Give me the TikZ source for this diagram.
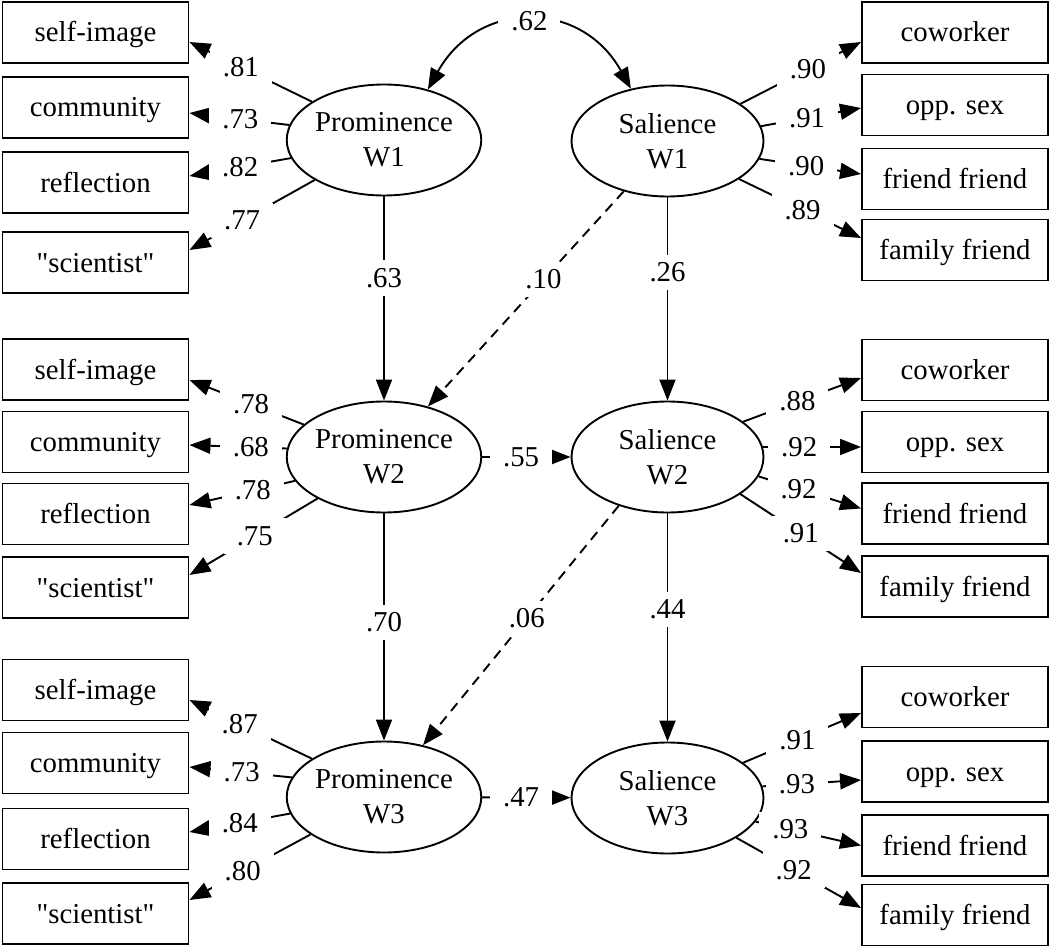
\documentclass[tikz,border=0pt]{standalone}
\usepackage{fontspec}
\setmainfont{Liberation Serif}
\usetikzlibrary{arrows.meta}
\usetikzlibrary{shapes.geometric}

\begin{document}
\begin{tikzpicture}[x=.5pt, y=-.5pt, line width=.95pt,
  >={Triangle[length=10.5pt,width=8pt]},
  font=\fontsize{14.4}{17.5}\selectfont,
  ind/.style={draw, minimum width=93pt, minimum height=30.5pt, inner sep=0pt, text height=10pt, text depth=.5pt},
  lat/.style={draw, ellipse, minimum width=96pt, minimum height=55.5pt, inner sep=0pt, align=center},
  lbl/.style={fill=white, inner xsep=6.5pt, inner ysep=4pt}]
\useasboundingbox (0,0) rectangle (1050,947);
\foreach \nm/\txt/\y in {self1/self-image/32.5, comm1/community/107.5, refl1/reflection/182.5, sci1/\textquotedbl scientist\textquotedbl/262.5,
  self2/self-image/369.5, comm2/community/442, refl2/reflection/514, sci2/\textquotedbl scientist\textquotedbl/587.5,
  self3/self-image/690, comm3/community/763, refl3/reflection/839, sci3/\textquotedbl scientist\textquotedbl/913.5}
  \node[ind] (\nm) at (95.5,\y) {\txt};
\foreach \nm/\txt/\y in {cowk1/coworker/32.5, opp1/opp. sex/105, ff1/friend friend/179, fam1/family friend/250,
  cowk2/coworker/370, opp2/opp. sex/442, ff2/friend friend/513.5, fam2/family friend/586.5,
  cowk3/coworker/697, opp3/opp. sex/771.5, ff3/friend friend/845.5, fam3/family friend/915}
  \node[ind] (\nm) at (955,\y) {\txt};
\node[lat] (prom1) at (384,140) {Prominence\\W1};
\node[lat] (sal1) at (667.5,141) {Salience\\W1};
\node[lat] (prom2) at (384,457) {Prominence\\W2};
\node[lat] (sal2) at (667.5,457) {Salience\\W2};
\node[lat] (prom3) at (384,797) {Prominence\\W3};
\node[lat] (sal3) at (667.5,798) {Salience\\W3};
\foreach \e/\b/\a/\s/\p/\v in {prom1/self1/152/-4.75/.58/.81, prom1/comm1/171/-2.75/.49/.73, prom1/refl1/191/3.25/.50/.82, prom1/sci1/210/6.25/.58/.77,
  prom2/self2/158/-5.25/.46/.78, prom2/comm2/175/-1.5/.37/.68, prom2/refl2/195/4.5/.40/.78, prom2/sci2/212/6.25/.49/.75,
  prom3/self3/152/-5/.59/.87, prom3/comm3/168/-2/.49/.73, prom3/refl3/190/3.5/.50/.84, prom3/sci3/207/6.75/.56/.80}
  \draw[->] (\e.\a) -- ([yshift=\s pt]\b.east) node[lbl, pos=\p] {\v};
\foreach \e/\b/\a/\s/\p/\v in {sal1/cowk1/27/-4.75/.56/.90, sal1/opp1/9/-1.5/.46/.91, sal1/ff1/-11/2.5/.46/.90, sal1/fam1/-28/6/.52/.89,
  sal2/cowk2/25/-4/.46/.88, sal2/opp2/6/-2.5/.37/.92, sal2/ff2/-12/2.5/.39/.92, sal2/fam2/-27/6.75/.50/.91,
  sal3/cowk3/25/-8/.46/.91, sal3/opp3/7/-4.25/.35/.93, sal3/ff3/-15/0/.33/.93, sal3/fam3/-30/3.5/.46/.92}
  \draw[->] (\e.\a) -- ([yshift=\s pt]\b.west) node[lbl, pos=\p] {\v};
\draw[<->] (prom1.49) .. controls +(50,-90) and +(-50,-90) .. (sal1.125) node[lbl, pos=.5] {.62};
\draw[->] (prom1) -- (prom2) node[lbl, pos=.40] {.63};
\draw[->] (sal1) -- (sal2) node[lbl, pos=.37] {.26};
\draw[->, dash pattern=on 5pt off 3.5pt] (sal1.229) -- (prom2.49) node[lbl, pos=.41] {.10};
\draw[->] (prom2) -- (sal2) node[lbl, pos=.44] {.55};
\draw[->] (prom2) -- (prom3) node[lbl, pos=.48] {.70};
\draw[->] (sal2) -- (sal3) node[lbl, pos=.42] {.44};
\draw[->, dash pattern=on 5pt off 3.5pt] (sal2.225) -- (prom3.53) node[lbl, pos=.47] {.06};
\draw[->] (prom3) -- (sal3) node[lbl, pos=.44] {.47};
\end{tikzpicture}
\end{document}
